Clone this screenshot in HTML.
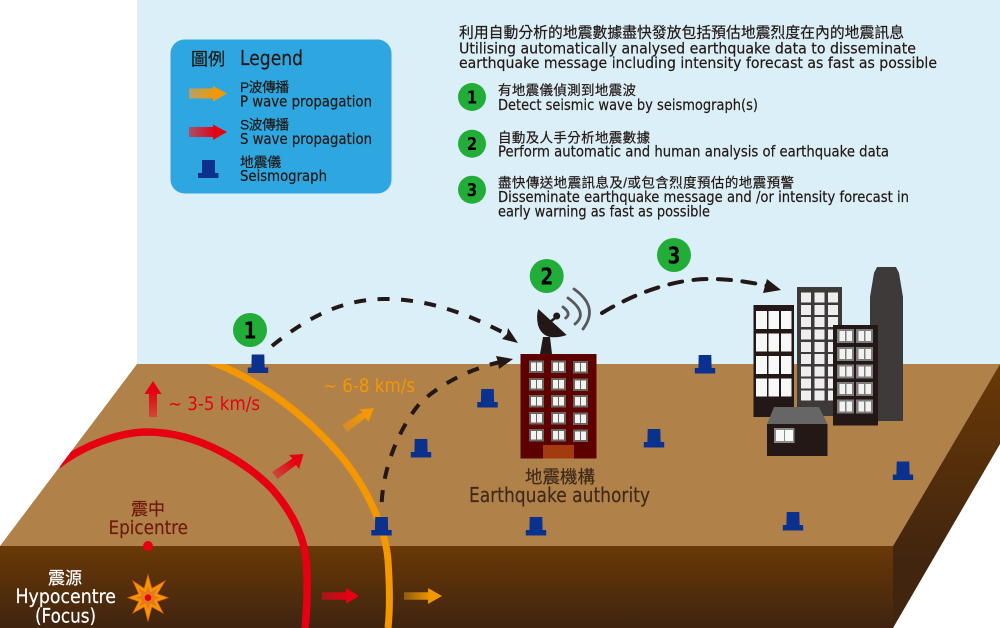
<!DOCTYPE html>
<html lang="zh-Hant">
<head>
<meta charset="utf-8">
<title>Earthquake early warning diagram</title>
<style>
html,body{margin:0;padding:0;background:#fff;}
svg{display:block;}
text{font-family:"DejaVu Sans","Liberation Sans","Noto Sans CJK TC",sans-serif;}
.c{font-family:"Liberation Sans","Noto Sans CJK TC",sans-serif;}
.k{fill:#231815;stroke:#231815;stroke-width:.2;}
</style>
</head>
<body>
<svg xmlns="http://www.w3.org/2000/svg" width="1000" height="628" viewBox="0 0 1000 628">
<defs>
<clipPath id="gc"><polygon points="137,364 1000,364 1000,628 0,628 0,546"/></clipPath>
<linearGradient id="front" x1="0" y1="546" x2="0" y2="628" gradientUnits="userSpaceOnUse"><stop offset="0" stop-color="#6a3906"/><stop offset="1" stop-color="#3f2410"/></linearGradient>
<linearGradient id="side" x1="0" y1="364" x2="0" y2="560" gradientUnits="userSpaceOnUse"><stop offset="0" stop-color="#6a3906"/><stop offset="1" stop-color="#41250f"/></linearGradient>
<linearGradient id="lp" x1="189" y1="0" x2="227" y2="0" gradientUnits="userSpaceOnUse"><stop offset="0" stop-color="#b3a168"/><stop offset=".7" stop-color="#f39800"/></linearGradient>
<linearGradient id="ls" x1="189" y1="0" x2="227" y2="0" gradientUnits="userSpaceOnUse"><stop offset="0" stop-color="#a8506f"/><stop offset=".7" stop-color="#e60012"/></linearGradient>
<linearGradient id="hr" x1="322" y1="0" x2="359" y2="0" gradientUnits="userSpaceOnUse"><stop offset="0" stop-color="#a3181a"/><stop offset=".7" stop-color="#e60012"/></linearGradient>
<linearGradient id="ho" x1="404" y1="0" x2="442" y2="0" gradientUnits="userSpaceOnUse"><stop offset="0" stop-color="#8f5c10"/><stop offset=".7" stop-color="#f39800"/></linearGradient>
<linearGradient id="ur" x1="0" y1="417" x2="0" y2="381" gradientUnits="userSpaceOnUse"><stop offset="0" stop-color="#cf4a35"/><stop offset=".7" stop-color="#e60012"/></linearGradient>
<linearGradient id="dr" x1="273" y1="477" x2="303" y2="454" gradientUnits="userSpaceOnUse"><stop offset="0" stop-color="#c9503a"/><stop offset=".7" stop-color="#e60012"/></linearGradient>
<linearGradient id="dy" x1="343" y1="430" x2="374" y2="408" gradientUnits="userSpaceOnUse"><stop offset="0" stop-color="#cf8a2c"/><stop offset=".7" stop-color="#f39800"/></linearGradient>
<g id="sg"><path d="M-6.300,0H6.300L6.600,13H10.200V18.500H-10.200V13H-6.600Z" fill="#0b318f"/></g>
<g id="w1"><rect width="15" height="12.500" fill="#6b6560"/><rect x="2" y="2" width="5" height="8.500" fill="#f2f2f2"/><rect x="8" y="2" width="5" height="8.500" fill="#f2f2f2"/></g>
<g id="w2"><rect width="17" height="14" fill="#7d7d7d"/><rect x="2.500" y="2" width="5.500" height="10" fill="#f2f2f2"/><rect x="9.500" y="2" width="5.500" height="10" fill="#f2f2f2"/></g>
</defs>

<rect x="137" y="0" width="863" height="365" fill="#daeff7"/>
<polygon points="137,364 1000,364 893,546 0,546" fill="#b1814a"/>
<rect x="0" y="546" width="893" height="82" fill="url(#front)"/>
<polygon points="1000,364 1000,444 893,628 893,546" fill="url(#side)"/>

<!-- waves -->
<g clip-path="url(#gc)">
<path d="M58,465 C88,442 125,432 147,432 C200,432 250,465 273,490 C290,510 300,530 304,547 C308,565 308,600 305,628" fill="none" stroke="#e60012" stroke-width="7.500"/>
<path d="M200,358 C258,376 310,420 340,455 C365,485 385,525 388,560 C390,590 390,610 388,628" fill="none" stroke="#f39800" stroke-width="7"/>
</g>

<!-- arrows on ground -->
<polygon points="149,417 157,417 157,394 161.500,394 153,381 144.500,394 149,394" fill="url(#ur)"/>
<polygon points="272,472 277.500,479 296,465 299,469 303.500,454 289,455 292.500,458.500" fill="url(#dr)"/>
<polygon points="342,425 347,432 365.500,418 368.500,422 374,408 359,409.500 362.500,412" fill="url(#dy)"/>
<polygon points="322,592.300 346,592.300 346,588 359,596 346,604 346,599.700 322,599.700" fill="url(#hr)"/>
<polygon points="404,592.300 428,592.300 428,588 442,596 428,604 428,599.700 404,599.700" fill="url(#ho)"/>

<!-- star -->
<polygon points="148,575 151.800,588.500 165,581 157.200,593.900 168,597.700 157.200,601.500 163,613 151.800,606.900 148,621 144.200,606.900 133,613 138.800,601.500 128,597.700 138.800,593.900 133,581 144.200,588.500" fill="#f39800" stroke="#e8601a" stroke-width=".8"/>
<polygon points="148,586 150.300,592.200 158,588 154,595.400 160,597.700 154,600 157,606.700 150.300,603.200 148,610 145.700,603.200 139,606.700 142,600 136,597.700 142,595.400 138,588 145.700,592.200" fill="#e8781a"/>
<circle cx="148" cy="597.700" r="3.300" fill="#e60012"/>
<circle cx="148" cy="546" r="5" fill="#e60012"/>

<!-- seismographs -->
<use href="#sg" x="258" y="354.500"/>
<use href="#sg" x="381.500" y="517"/>
<use href="#sg" x="421" y="439"/>
<use href="#sg" x="487.500" y="389"/>
<use href="#sg" x="536" y="517"/>
<use href="#sg" x="654" y="429"/>
<use href="#sg" x="705" y="355"/>
<use href="#sg" x="793" y="512"/>
<use href="#sg" x="903" y="461.500"/>

<!-- authority building -->
<polygon points="540,354 543,337 550,337 552,354" fill="#231815"/>
<path d="M538.300,309 L566.700,335 Q558,338 550,337 Q541,335 538,325 Q536,316 538.300,309 Z" fill="#231815"/>
<line x1="550" y1="322" x2="556.700" y2="316.700" stroke="#231815" stroke-width="2.500"/>
<circle cx="556.700" cy="316" r="3.500" fill="#231815"/>
<g fill="none" stroke="#595757" stroke-width="2.800" stroke-linecap="round">
<path d="M563,307 Q571.700,313.500 565.700,318"/>
<path d="M568,298 Q588.500,313 575,324"/>
<path d="M574,289 Q599.500,307 583,329"/>
</g>
<rect x="520.500" y="354" width="76" height="104.500" fill="#5f0000"/>
<rect x="543" y="445" width="31" height="13.500" fill="#a33a10"/>
<use href="#w1" x="529" y="360.500"/><use href="#w1" x="551" y="360.500"/><use href="#w1" x="573" y="361"/>
<use href="#w1" x="529" y="378"/><use href="#w1" x="551" y="378"/><use href="#w1" x="573" y="378.500"/>
<use href="#w1" x="529" y="395"/><use href="#w1" x="551" y="395"/><use href="#w1" x="573" y="395"/>
<use href="#w1" x="529" y="412"/><use href="#w1" x="551" y="412"/><use href="#w1" x="573" y="412.500"/>
<use href="#w1" x="529" y="429"/><use href="#w1" x="551" y="429"/><use href="#w1" x="573" y="429.500"/>

<!-- city -->
<polygon points="877,267 896,267 899,273 903,297 903,421 870,421 870,297 874,273" fill="#3e3a39"/>
<rect x="797" y="287" width="45" height="129" fill="#3e3a39"/>
<g fill="#eeeeee">
<rect x="801" y="292.500" width="10" height="10"/><rect x="814.500" y="292.500" width="10" height="10"/><rect x="828" y="292.500" width="10" height="10"/>
<rect x="801" y="305" width="10" height="10"/><rect x="814.500" y="305" width="10" height="10"/><rect x="828" y="305" width="10" height="10"/>
<rect x="801" y="317" width="10" height="10"/><rect x="814.500" y="317" width="10" height="10"/><rect x="828" y="317" width="10" height="10"/>
<rect x="801" y="329.500" width="10" height="10"/><rect x="814.500" y="329.500" width="10" height="10"/><rect x="828" y="329.500" width="10" height="10"/>
<rect x="801" y="342" width="10" height="10"/><rect x="814.500" y="342" width="10" height="10"/><rect x="828" y="342" width="10" height="10"/>
<rect x="801" y="354" width="10" height="10"/><rect x="814.500" y="354" width="10" height="10"/><rect x="828" y="354" width="10" height="10"/>
<rect x="801" y="366.500" width="10" height="10"/><rect x="814.500" y="366.500" width="10" height="10"/><rect x="828" y="366.500" width="10" height="10"/>
<rect x="801" y="378.500" width="10" height="10"/><rect x="814.500" y="378.500" width="10" height="10"/><rect x="828" y="378.500" width="10" height="10"/>
<rect x="801" y="390.500" width="10" height="10"/><rect x="814.500" y="390.500" width="10" height="10"/><rect x="828" y="390.500" width="10" height="10"/>
</g>
<rect x="753.500" y="305" width="40.500" height="112" fill="#231815"/>
<g fill="#f7f8f8">
<rect x="756" y="311" width="11" height="18"/><rect x="768.500" y="311" width="10.500" height="18"/><rect x="781" y="311" width="10.500" height="18"/>
<rect x="756" y="333.500" width="11" height="18"/><rect x="768.500" y="333.500" width="10.500" height="18"/><rect x="781" y="333.500" width="10.500" height="18"/>
<rect x="756" y="356" width="11" height="18"/><rect x="768.500" y="356" width="10.500" height="18"/><rect x="781" y="356" width="10.500" height="18"/>
<rect x="756" y="378.500" width="11" height="18"/><rect x="768.500" y="378.500" width="10.500" height="18"/><rect x="781" y="378.500" width="10.500" height="18"/>
</g>
<rect x="833" y="325" width="45" height="100.500" fill="#231815"/>
<use href="#w2" x="837" y="329"/><use href="#w2" x="856" y="329"/>
<use href="#w2" x="837" y="347"/><use href="#w2" x="856" y="347"/>
<use href="#w2" x="837" y="364.500"/><use href="#w2" x="856" y="364.500"/>
<use href="#w2" x="837" y="382"/><use href="#w2" x="856" y="382"/>
<use href="#w2" x="837" y="399.500"/><use href="#w2" x="856" y="399.500"/>
<polygon points="767,424 774,407 819,407 827.500,424" fill="#666666"/>
<rect x="767" y="424" width="60.500" height="32" fill="#231815"/>
<rect x="774" y="428" width="20.500" height="15" fill="#8a8a8a"/>
<rect x="776" y="430" width="8" height="11" fill="#f7f8f8"/><rect x="785" y="430" width="8" height="11" fill="#f7f8f8"/>

<!-- dashed curves -->
<g fill="none" stroke="#231815" stroke-width="4">
<path d="M272,346 C310,315 345,299 385,299 C430,299 470,315 508,335" stroke-dasharray="12 11.500"/>
<path d="M381.500,508 C382,470 398,430 420,403 C445,380 475,368 500,362" stroke-dasharray="12 11.500" stroke-dashoffset="-6"/>
<path d="M602,313 C630,296 670,279 710,279 C730,279 750,282 768,286" stroke-dasharray="13 11.500" stroke-linecap="round"/>
</g>
<polygon points="518,343 502,339 507,334 508,328" fill="#231815"/>
<polygon points="513,359 496,356 498,362 499,369" fill="#231815"/>
<polygon points="781,290 767,279 765,286 763,293" fill="#231815"/>

<!-- step circles on scene -->
<circle cx="250" cy="330" r="17" fill="#22ac38"/>
<circle cx="546.700" cy="276" r="17" fill="#22ac38"/>
<circle cx="674" cy="255" r="17" fill="#22ac38"/>
<g font-weight="bold" font-size="23" text-anchor="middle" fill="#000">
<text x="250" y="338.500" textLength="13" lengthAdjust="spacingAndGlyphs">1</text>
<text x="546.700" y="284.500" textLength="13" lengthAdjust="spacingAndGlyphs">2</text>
<text x="674" y="263.500" textLength="13" lengthAdjust="spacingAndGlyphs">3</text>
</g>

<!-- scene labels -->
<text x="168" y="410" font-size="19" fill="#e60012" textLength="92" lengthAdjust="spacingAndGlyphs">~ 3-5 km/s</text>
<text x="323" y="392" font-size="19" fill="#f39800" textLength="92" lengthAdjust="spacingAndGlyphs">~ 6-8 km/s</text>
<text class="c" x="131" y="515" font-size="17" fill="#6f1a0c" stroke="#6f1a0c" stroke-width=".2">震中</text>
<text x="108.500" y="534" font-size="19" fill="#6f1a0c" stroke="#6f1a0c" stroke-width=".2" textLength="79.500" lengthAdjust="spacingAndGlyphs">Epicentre</text>
<text class="c" x="48" y="584" font-size="17" fill="#fff" stroke="#fff" stroke-width=".2">震源</text>
<text x="15.500" y="603" font-size="19.500" fill="#fff" stroke="#fff" stroke-width=".2" textLength="100.500" lengthAdjust="spacingAndGlyphs">Hypocentre</text>
<text x="35" y="622.500" font-size="19.500" fill="#fff" stroke="#fff" stroke-width=".2" textLength="61" lengthAdjust="spacingAndGlyphs">(Focus)</text>
<text class="c" x="525" y="483" font-size="17.500" fill="#3e2a1a" stroke="#3e2a1a" stroke-width=".2">地震機構</text>
<text x="469" y="502" font-size="20" fill="#3e2a1a" stroke="#3e2a1a" stroke-width=".2" textLength="181" lengthAdjust="spacingAndGlyphs">Earthquake authority</text>

<!-- legend -->
<rect x="170.500" y="39.500" width="221" height="154" rx="14" fill="#2ea7e0"/>
<text class="c k" x="191" y="65" font-size="17">圖例</text>
<text class="k" x="240" y="65" font-size="20" textLength="63" lengthAdjust="spacingAndGlyphs">Legend</text>
<polygon points="189,88.500 213,88.500 213,86 227,93.500 213,101.500 213,98.500 189,98.500" fill="url(#lp)"/>
<polygon points="189,127 213,127 213,124.500 227,132 213,140 213,137 189,137" fill="url(#ls)"/>
<path d="M202,160H215V173H218.500V178H198V173H202Z" fill="#0b318f"/>
<text class="c k" x="240" y="92" font-size="13.800" textLength="49">P波傳播</text>
<text class="k" x="240" y="106.500" font-size="15" textLength="132" lengthAdjust="spacingAndGlyphs">P wave propagation</text>
<text class="c k" x="240" y="129.500" font-size="13.800" textLength="49">S波傳播</text>
<text class="k" x="240" y="144" font-size="15" textLength="132" lengthAdjust="spacingAndGlyphs">S wave propagation</text>
<text class="c k" x="240" y="167" font-size="13.800" textLength="41">地震儀</text>
<text class="k" x="240" y="181" font-size="15" textLength="87" lengthAdjust="spacingAndGlyphs">Seismograph</text>

<!-- header -->
<text class="c k" x="459" y="37.500" font-size="14.800" textLength="445">利用自動分析的地震數據盡快發放包括預估地震烈度在內的地震訊息</text>
<text class="k" x="459" y="53.500" font-size="15.500" textLength="457" lengthAdjust="spacingAndGlyphs">Utilising automatically analysed earthquake data to disseminate</text>
<text class="k" x="459" y="68" font-size="15.500" textLength="478" lengthAdjust="spacingAndGlyphs">earthquake message including intensity forecast as fast as possible</text>

<circle cx="472" cy="97" r="14" fill="#22ac38"/>
<circle cx="472" cy="143.700" r="14" fill="#22ac38"/>
<circle cx="472" cy="189.700" r="14" fill="#22ac38"/>
<g font-weight="bold" font-size="18" text-anchor="middle" fill="#000">
<text x="472" y="103.500" textLength="10.500" lengthAdjust="spacingAndGlyphs">1</text>
<text x="472" y="150.200" textLength="10.500" lengthAdjust="spacingAndGlyphs">2</text>
<text x="472" y="196.200" textLength="10.500" lengthAdjust="spacingAndGlyphs">3</text>
</g>
<text class="c k" x="498" y="95" font-size="13.500" textLength="138">有地震儀偵測到地震波</text>
<text class="k" x="498" y="110" font-size="14.800" textLength="260" lengthAdjust="spacingAndGlyphs">Detect seismic wave by seismograph(s)</text>
<text class="c k" x="498" y="142.300" font-size="13.500" textLength="152">自動及人手分析地震數據</text>
<text class="k" x="498" y="156.700" font-size="14.800" textLength="391" lengthAdjust="spacingAndGlyphs">Perform automatic and human analysis of earthquake data</text>
<text class="c k" x="498" y="187.700" font-size="13.500" textLength="296">盡快傳送地震訊息及/或包含烈度預估的地震預警</text>
<text class="k" x="498" y="202" font-size="14.800" textLength="411" lengthAdjust="spacingAndGlyphs">Disseminate earthquake message and /or intensity forecast in</text>
<text class="k" x="498" y="216.700" font-size="14.800" textLength="212" lengthAdjust="spacingAndGlyphs">early warning as fast as possible</text>
</svg>
</body>
</html>
